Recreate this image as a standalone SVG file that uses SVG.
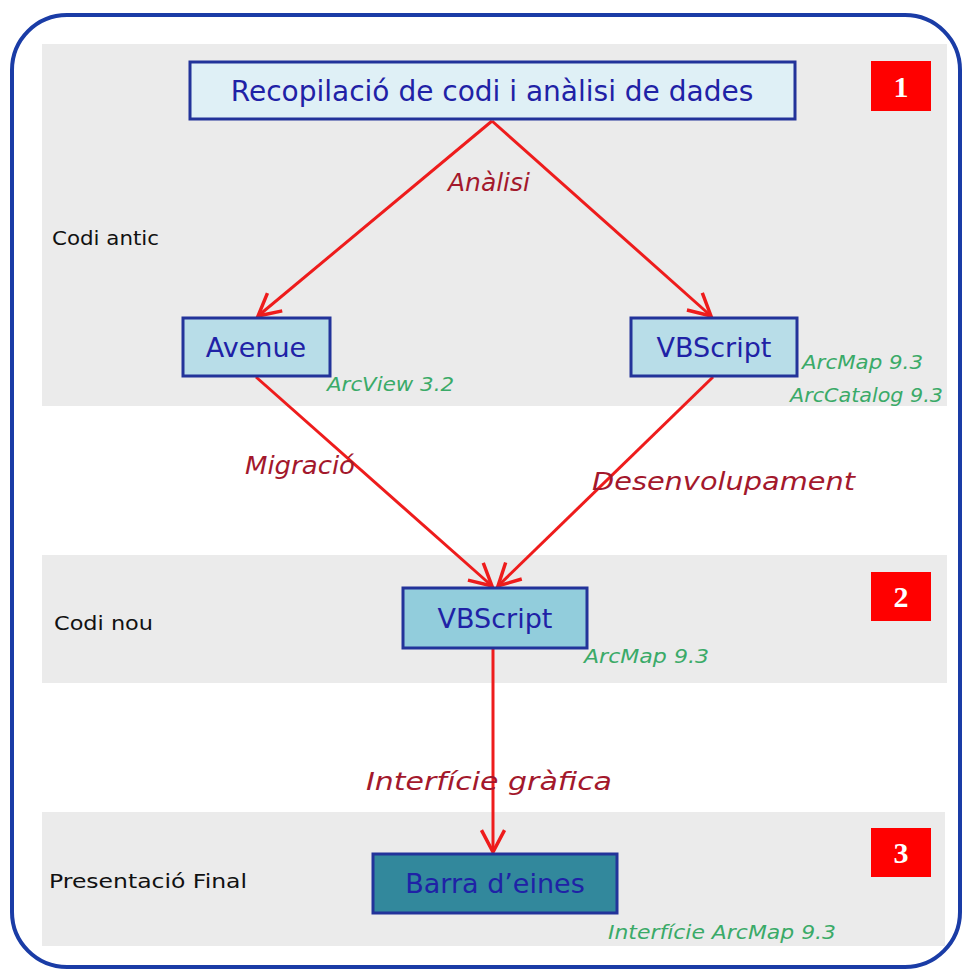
<svg xmlns="http://www.w3.org/2000/svg" width="968" height="974" viewBox="0 0 968 974">
<defs>
<style>
.band{fill:#ebebeb}
.box{stroke:#22339a;stroke-width:3}
.bt{font-family:"DejaVu Sans","Liberation Sans",sans-serif;fill:#1f22a6;text-anchor:middle}
.lbl{font-family:"DejaVu Sans","Liberation Sans",sans-serif;font-size:20px;fill:#111}
.grn{font-family:"DejaVu Sans","Liberation Sans",sans-serif;font-size:20px;font-style:italic;fill:#3aaa68}
.red{font-family:"DejaVu Sans","Liberation Sans",sans-serif;font-size:25px;font-style:italic;fill:#a3182c}
.num{fill:#ff0000}
.numt{font-family:"Liberation Serif",serif;font-weight:bold;font-size:30px;fill:#fff;text-anchor:middle}
.arr{stroke:#ee1c1c;stroke-width:3;fill:none;marker-end:url(#ah)}
</style>
<marker id="ah" markerUnits="userSpaceOnUse" markerWidth="30" markerHeight="30" viewBox="-22 -12 26 24" refX="0" refY="0" orient="auto">
<path d="M-19,-10 L0,0 L-19,10" fill="none" stroke="#ee1c1c" stroke-width="3"/>
</marker>
</defs>
<rect x="0" y="0" width="968" height="974" fill="#fff"/>
<rect x="12" y="15" width="948" height="952" rx="55" ry="55" fill="none" stroke="#1a3ca6" stroke-width="4"/>
<rect class="band" x="42" y="44" width="905" height="362"/>
<rect class="band" x="42" y="555" width="905" height="128"/>
<rect class="band" x="42" y="812" width="903" height="134"/>

<g id="connectors">
<line class="arr" x1="492" y1="121" x2="258" y2="316"/>
<line class="arr" x1="492" y1="121" x2="711" y2="316"/>
<line class="arr" x1="256" y1="377" x2="492" y2="586"/>
<line class="arr" x1="713" y1="377" x2="498" y2="586"/>
<line class="arr" x1="493" y1="649" x2="493" y2="852"/>
<text class="red" x="448" y="191" textLength="82" lengthAdjust="spacingAndGlyphs">Anàlisi</text>
<text class="red" x="245" y="474" textLength="110" lengthAdjust="spacingAndGlyphs">Migració</text>
<text class="red" x="592" y="490" font-size="27" textLength="263" lengthAdjust="spacingAndGlyphs">Desenvolupament</text>
<text class="red" x="366" y="790" font-size="27" textLength="246" lengthAdjust="spacingAndGlyphs">Interfície gràfica</text>
</g>

<g id="n1">
<rect class="box" x="190" y="62" width="605" height="57" fill="#dff0f6"/>
<text class="bt" x="492" y="101" font-size="28">Recopilació de codi i anàlisi de dades</text>
</g>
<g id="step1">
<rect class="num" x="871" y="61" width="60" height="50"/>
<text class="numt" x="901" y="97">1</text>
</g>
<g id="lbl-antic"><text class="lbl" x="52" y="245" textLength="107" lengthAdjust="spacingAndGlyphs">Codi antic</text></g>

<g id="avenue">
<rect class="box" x="183" y="318" width="147" height="58" fill="#b8dde8"/>
<text class="bt" x="256" y="357" font-size="27">Avenue</text>
<text class="grn" x="327" y="391" textLength="127" lengthAdjust="spacingAndGlyphs">ArcView 3.2</text>
</g>
<g id="vbs1">
<rect class="box" x="631" y="318" width="166" height="58" fill="#b8dde8"/>
<text class="bt" x="714" y="357" font-size="27">VBScript</text>
<text class="grn" x="802" y="369" textLength="121" lengthAdjust="spacingAndGlyphs">ArcMap 9.3</text>
<text class="grn" x="790" y="402" textLength="153" lengthAdjust="spacingAndGlyphs">ArcCatalog 9.3</text>
</g>

<g id="vbs2">
<rect class="box" x="403" y="588" width="184" height="60" fill="#92cddc"/>
<text class="bt" x="495" y="628" font-size="27">VBScript</text>
<text class="grn" x="584" y="663" textLength="125" lengthAdjust="spacingAndGlyphs">ArcMap 9.3</text>
</g>
<g id="step2">
<rect class="num" x="871" y="572" width="60" height="49"/>
<text class="numt" x="901" y="607">2</text>
</g>
<g id="lbl-nou"><text class="lbl" x="54" y="630" textLength="99" lengthAdjust="spacingAndGlyphs">Codi nou</text></g>

<g id="barra">
<rect class="box" x="373" y="854" width="244" height="59" fill="#32889c"/>
<text class="bt" x="495" y="893" font-size="27">Barra d’eines</text>
<text class="grn" x="608" y="939" textLength="228" lengthAdjust="spacingAndGlyphs">Interfície ArcMap 9.3</text>
</g>
<g id="step3">
<rect class="num" x="871" y="828" width="60" height="49"/>
<text class="numt" x="901" y="863">3</text>
</g>
<g id="lbl-final"><text class="lbl" x="49" y="888" textLength="198" lengthAdjust="spacingAndGlyphs">Presentació Final</text></g>
</svg>
